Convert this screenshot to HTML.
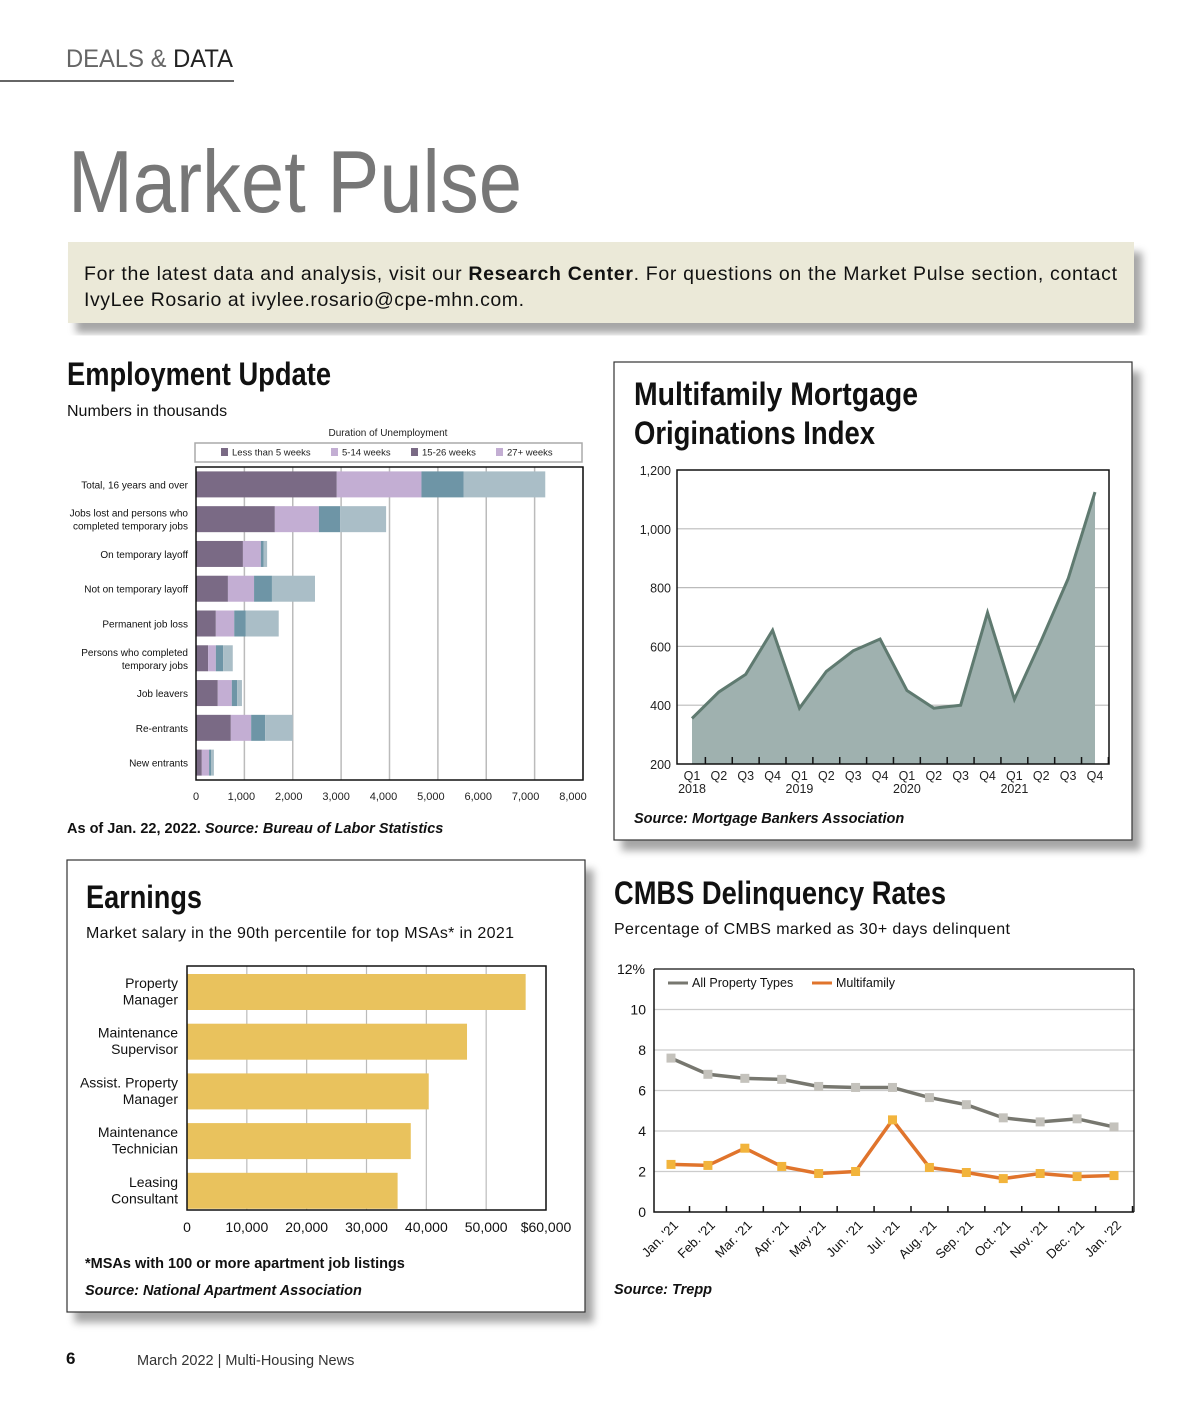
<!DOCTYPE html>
<html><head><meta charset="utf-8">
<style>
body{margin:0;background:#fff;}
svg text{font-family:"Liberation Sans",sans-serif;}
</style></head>
<body>
<svg id="page" width="1200" height="1400" viewBox="0 0 1200 1400" xmlns="http://www.w3.org/2000/svg">
<defs>
<filter id="sh" x="-5%" y="-5%" width="115%" height="120%"><feDropShadow dx="8" dy="10" stdDeviation="4" flood-color="#000" flood-opacity="0.35"/></filter>
</defs>
<text x="66" y="67" font-size="25" fill="#666" textLength="167" lengthAdjust="spacingAndGlyphs">DEALS &amp; <tspan fill="#222">DATA</tspan></text>
<line x1="0" y1="81" x2="234" y2="81" stroke="#333" stroke-width="1.5"/>
<text x="68" y="212" font-size="88" fill="#777" textLength="454" lengthAdjust="spacingAndGlyphs">Market Pulse</text>
<g>
<rect x="68" y="242" width="1066" height="81" fill="#ebe9d8" filter="url(#sh)"/>
<text x="84" y="280" font-size="19.5" fill="#111" textLength="1033" lengthAdjust="spacing">For the latest data and analysis, visit our <tspan font-weight="bold">Research Center</tspan>. For questions on the Market Pulse section, contact</text>
<text x="84" y="306" font-size="19.5" fill="#111" textLength="440" lengthAdjust="spacing">IvyLee Rosario at ivylee.rosario@cpe-mhn.com.</text>
</g>

<text x="67" y="385" font-size="32" font-weight="bold" fill="#111" textLength="264" lengthAdjust="spacingAndGlyphs">Employment Update</text>
<text x="67" y="416" font-size="16" fill="#111">Numbers in thousands</text>
<text x="388" y="436" font-size="10" text-anchor="middle" fill="#222">Duration of Unemployment</text>
<rect x="195" y="443" width="387" height="19" fill="#fff" stroke="#aaa" stroke-width="1.5"/>
<g id="emp"></g>
<text x="67" y="833" font-size="14.5" font-weight="bold" fill="#111">As of Jan. 22, 2022. <tspan font-style="italic">Source: Bureau of Labor Statistics</tspan></text>

<rect x="614" y="362" width="518" height="478" fill="#fff" stroke="#333" stroke-width="1.2" filter="url(#sh)"/>
<text x="634" y="405" font-size="32" font-weight="bold" fill="#111" textLength="284" lengthAdjust="spacingAndGlyphs">Multifamily Mortgage</text>
<text x="634" y="444" font-size="32" font-weight="bold" fill="#111" textLength="241" lengthAdjust="spacingAndGlyphs">Originations Index</text>
<g id="mort"></g>
<text x="634" y="823" font-size="14.5" font-weight="bold" font-style="italic" fill="#111">Source: Mortgage Bankers Association</text>

<rect x="67" y="860" width="518" height="452" fill="#fff" stroke="#333" stroke-width="1.2" filter="url(#sh)"/>
<text x="86" y="908" font-size="32" font-weight="bold" fill="#111" textLength="116" lengthAdjust="spacingAndGlyphs">Earnings</text>
<text x="86" y="938" font-size="16" fill="#111" textLength="428" lengthAdjust="spacing">Market salary in the 90th percentile for top MSAs* in 2021</text>
<g id="earn"></g>
<text x="85" y="1268" font-size="14.5" font-weight="bold" fill="#111">*MSAs with 100 or more apartment job listings</text>
<text x="85" y="1295" font-size="14.5" font-weight="bold" font-style="italic" fill="#111">Source: National Apartment Association</text>

<text x="614" y="904" font-size="32" font-weight="bold" fill="#111" textLength="332" lengthAdjust="spacingAndGlyphs">CMBS Delinquency Rates</text>
<text x="614" y="934" font-size="16" fill="#111" textLength="396" lengthAdjust="spacing">Percentage of CMBS marked as 30+ days delinquent</text>
<g id="cmbs"></g>
<text x="614" y="1294" font-size="14.5" font-weight="bold" font-style="italic" fill="#111">Source: Trepp</text>

<text x="66" y="1364" font-size="17" font-weight="bold" fill="#111">6</text>
<text x="137" y="1365" font-size="14.5" fill="#333">March 2022  |  Multi-Housing News</text>
</svg>
<script>
const empCats = ["Total, 16 years and over","Jobs lost and persons who|completed temporary jobs","On temporary layoff","Not on temporary layoff","Permanent job loss","Persons who completed|temporary jobs","Job leavers","Re-entrants","New entrants"];
const empLt5 = [2910,1630,970,660,410,250,450,720,120];
const emp5to14 = [1750,910,370,540,380,160,290,420,150];
const emp15to26 = [870,440,60,370,240,150,110,290,40];
const emp27plus = [1690,950,70,890,680,200,100,570,60];
const empTicks = [0,1000,2000,3000,4000,5000,6000,7000,8000];
const empLegend = ["Less than 5 weeks","5-14 weeks","15-26 weeks","27+ weeks"];

const mortQuarters = ["Q1","Q2","Q3","Q4","Q1","Q2","Q3","Q4","Q1","Q2","Q3","Q4","Q1","Q2","Q3","Q4"];
const mortYears = ["2018","2019","2020","2021"];
const mortValues = [355,445,505,655,390,515,585,625,450,390,400,715,420,620,830,1125];
const mortTicks = [200,400,600,800,1000,1200];

const earnCats = ["Property|Manager","Maintenance|Supervisor","Assist. Property|Manager","Maintenance|Technician","Leasing|Consultant"];
const earnValues = [56600,46800,40400,37400,35200];
const earnTicks = ["0","10,000","20,000","30,000","40,000","50,000","$60,000"];

const cmbsMonths = ["Jan. '21","Feb. '21","Mar. '21","Apr. '21","May '21","Jun. '21","Jul. '21","Aug. '21","Sep. '21","Oct. '21","Nov. '21","Dec. '21","Jan. '22"];
const cmbsAll = [7.6,6.8,6.6,6.55,6.2,6.15,6.15,5.65,5.3,4.65,4.45,4.6,4.2];
const cmbsMF = [2.35,2.3,3.15,2.25,1.9,2.0,4.55,2.2,1.95,1.65,1.9,1.75,1.8];
const cmbsTicks = [0,2,4,6,8,10,12];

const NS="http://www.w3.org/2000/svg";
function mk(parent,tag,attrs,txt){const e=document.createElementNS(NS,tag);for(const k in attrs)e.setAttribute(k,attrs[k]);if(txt!==undefined)e.textContent=txt;parent.appendChild(e);return e;}

(function(){
const g=document.getElementById('emp');
const L=196,R=583,T=467,B=780;
const x=v=>L+(v/8000)*(R-L);
const cols=["#7a6a85","#c3aed3","#6e95a6","#aabec7"];
const legCols=["#7a6a85","#c3aed3","#7a6a85","#c3aed3"];
const legX=[221,331,411,496];
empLegend.forEach((s,i)=>{
 const r=mk(g,'rect',{x:legX[i],y:448,width:7,height:8,fill:legCols[i]});
 
 const t=mk(g,'text',{x:legX[i]+11,y:455.5,'font-size':9.5,fill:'#222'},s);
 
});
empTicks.forEach(v=>{
 if(v>0){const l=mk(g,'line',{x1:x(v),x2:x(v),y1:T,y2:B,stroke:'#bbb','stroke-width':1.5});
 }
 const t=mk(g,'text',{x:x(v)-(v==0?0:8)*(v/8000)+ (v==0?0:-2),y:800,'font-size':11,'text-anchor':'middle',fill:'#222'},v.toLocaleString('en-US'));
 
});
const step=(B-T)/empCats.length;
const series=[empLt5,emp5to14,emp15to26,emp27plus];
empCats.forEach((c,i)=>{
 const cy=T+step*(i+0.5);
 let acc=0;
 series.forEach((s,j)=>{
  const r=mk(g,'rect',{x:x(acc),y:cy-13,width:x(acc+s[i])-x(acc),height:26,fill:cols[j]});
  
  acc+=s[i];
 });
 const lines=c.split('|');
 lines.forEach((ln,k)=>{
  const t=mk(g,'text',{x:188,y:cy+4+(k-(lines.length-1)/2)*13,'font-size':10,'text-anchor':'end',fill:'#111'},ln);
  
 });
});
const f=mk(g,'rect',{x:L,y:T,width:R-L,height:B-T,fill:'none',stroke:'#111','stroke-width':1.5});

})();

(function(){
const g=document.getElementById('mort');
const L=677,R=1109,T=470,B=764;
const y=v=>B-(v-200)/1000*(B-T);
const x=i=>692+i*(1095-692)/15;
mortTicks.forEach(v=>{
 if(v>200&&v<1200){const l=mk(g,'line',{x1:L,x2:R,y1:y(v),y2:y(v),stroke:'#bbb','stroke-width':1.2});
 }
 const t=mk(g,'text',{x:671,y:y(v)+5,'font-size':12.5,'text-anchor':'end',fill:'#222'},v.toLocaleString('en-US'));
 
});
let d='M'+x(0)+','+B;mortValues.forEach((v,i)=>d+=' L'+x(i)+','+y(v));d+=' L'+x(mortValues.length-1)+','+B+'Z';
const a=mk(g,'path',{d:d,fill:'#9fb1af'});
let p='';mortValues.forEach((v,i)=>p+=(i?' L':'M')+x(i)+','+y(v));
const ln=mk(g,'path',{d:p,fill:'none',stroke:'#5f7a70','stroke-width':3});
mortQuarters.forEach((q,i)=>{
 const tk=mk(g,'line',{x1:x(i)+13.4,x2:x(i)+13.4,y1:B-7,y2:B,stroke:'#111','stroke-width':1.5});
 
 const t=mk(g,'text',{x:x(i),y:780,'font-size':12.5,'text-anchor':'middle',fill:'#222'},q);
 
});
mortYears.forEach((yr,i)=>{
 const t=mk(g,'text',{x:x(i*4),y:793,'font-size':12.5,'text-anchor':'middle',fill:'#222'},yr);
 
});
const f=mk(g,'rect',{x:L,y:T,width:R-L,height:B-T,fill:'none',stroke:'#111','stroke-width':1.5});

})();

(function(){
const g=document.getElementById('earn');
const L=187,R=546,T=966,B=1210;
const x=v=>L+v/60000*(R-L);
earnTicks.forEach((s,i)=>{
 const v=i*10000;
 if(i>0){const l=mk(g,'line',{x1:x(v),x2:x(v),y1:T,y2:B,stroke:'#bbb','stroke-width':1.2});
 }
 const t=mk(g,'text',{x:x(v),y:1232,'font-size':14,'text-anchor':'middle',fill:'#111'},s);
 
});
earnCats.forEach((c,i)=>{
 const top=974+i*49.7;
 const r=mk(g,'rect',{x:L,y:top,width:x(earnValues[i])-L,height:36,fill:'#e9c25d'});
 
 c.split('|').forEach((ln,k)=>{
  const t=mk(g,'text',{x:178,y:top+14+k*16.5,'font-size':14,'text-anchor':'end',fill:'#111'},ln);
  
 });
});
const f=mk(g,'rect',{x:L,y:T,width:R-L,height:B-T,fill:'none',stroke:'#111','stroke-width':1.5});

})();

(function(){
const g=document.getElementById('cmbs');
const L=654,R=1134,T=969,B=1212;
const y=v=>B-v/12*(B-T);
const x=i=>671+i*(1114-671)/12;
cmbsTicks.forEach(v=>{
 if(v>0&&v<12){const l=mk(g,'line',{x1:L,x2:R,y1:y(v),y2:y(v),stroke:'#ccc','stroke-width':1.2});
 }
 const t=mk(g,'text',{x:v==12?645:646,y:y(v)+5,'font-size':14,'text-anchor':'end',fill:'#111'},v==12?'12%':String(v));
 
});
mk(g,'line',{x1:L,x2:R,y1:T,y2:T,stroke:'#111','stroke-width':1.2});
mk(g,'line',{x1:R,x2:R,y1:T,y2:B,stroke:'#111','stroke-width':1.2});
const ax=mk(g,'path',{d:`M${L},${T} L${L},${B} L${R},${B}`,fill:'none',stroke:'#111','stroke-width':1.5});

cmbsMonths.forEach((m,i)=>{
 const tk=mk(g,'line',{x1:x(i)+18.5,x2:x(i)+18.5,y1:B-6,y2:B,stroke:'#111','stroke-width':1.5});
 
 const t=mk(g,'text',{x:x(i)+8,y:B+14,'font-size':13,'text-anchor':'end',fill:'#111',transform:`rotate(-45 ${x(i)+8} ${B+14})`},m);
 
});
function series(vals,color,mcolor,name){
 let p='';vals.forEach((v,i)=>p+=(i?' L':'M')+x(i)+','+y(v));
 const l=mk(g,'path',{d:p,fill:'none',stroke:color,'stroke-width':3.5});
 
 vals.forEach((v,i)=>{
  const r=mk(g,'rect',{x:x(i)-4.5,y:y(v)-4.5,width:9,height:9,fill:mcolor});
  
 });
}
series(cmbsAll,'#77776f','#c4c2bc','all-property');
series(cmbsMF,'#e0742c','#f2b43c','multifamily');
const l1=mk(g,'line',{x1:668,x2:688,y1:983,y2:983,stroke:'#77776f','stroke-width':3});

const t1=mk(g,'text',{x:692,y:987,'font-size':12.5,fill:'#111'},'All Property Types');

const l2=mk(g,'line',{x1:812,x2:832,y1:983,y2:983,stroke:'#e0742c','stroke-width':3});

const t2=mk(g,'text',{x:836,y:987,'font-size':12.5,fill:'#111'},'Multifamily');

})();
</script>
</body></html>
